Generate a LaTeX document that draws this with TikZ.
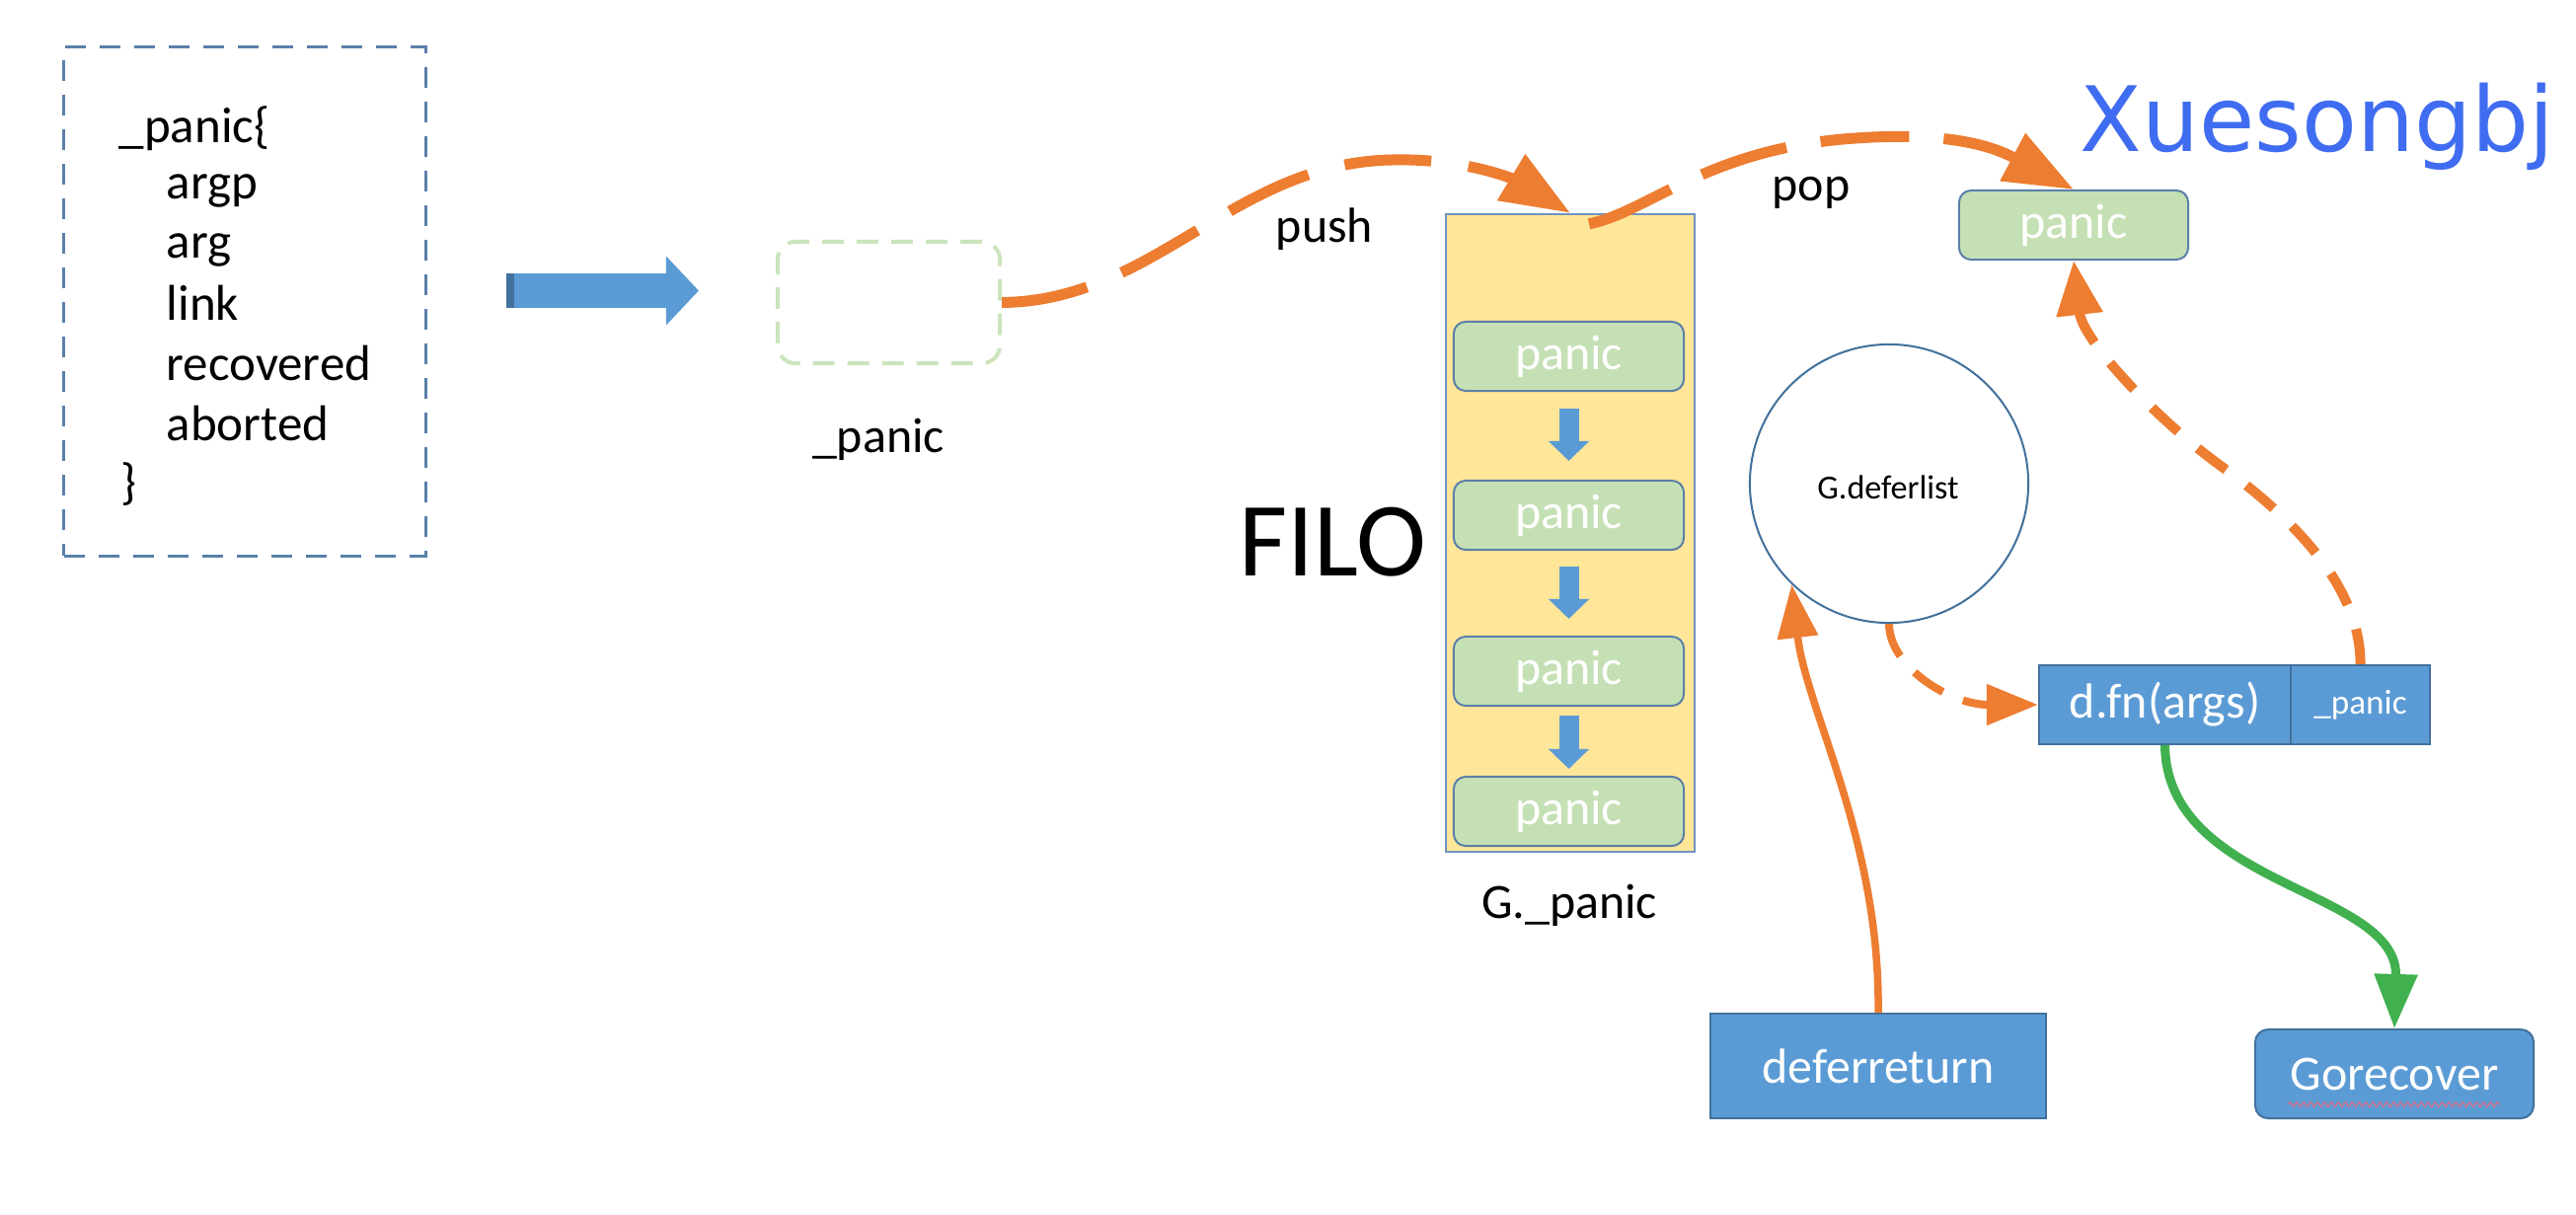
\documentclass[tikz,border=0pt]{standalone}
\usepackage{fontspec}
\setmainfont{Carlito}
\newfontfamily\wmfont{DejaVu Sans}
\usetikzlibrary{arrows.meta,calc,decorations.pathmorphing}
\definecolor{obl}{HTML}{5B9BD5}
\definecolor{obld}{HTML}{41719C}
\definecolor{oor}{HTML}{ED7D31}
\definecolor{ogr}{HTML}{C5E0B4}
\definecolor{ogrd}{HTML}{CBE4BC}
\definecolor{oye}{HTML}{FFE699}
\definecolor{colst}{HTML}{6F93BF}
\definecolor{boxst}{HTML}{5B80A8}
\definecolor{gline}{HTML}{41B04F}
\definecolor{wm}{HTML}{3F6CF0}
\definecolor{codest}{HTML}{5A80A9}
\definecolor{squig}{HTML}{D9708A}
\begin{document}
\begin{tikzpicture}[x=0.01cm,y=-0.01cm,
  lbl/.style={inner sep=0pt, font=\fontsize{14.2}{17}\selectfont},
  codetxt/.style={inner sep=0pt, anchor=base west, font=\fontsize{14.5}{17}\selectfont},
  gbox/.style={draw=boxst, line width=0.02cm, fill=ogr, rounded corners=0.12cm,
     minimum width=2.33cm, minimum height=0.70cm, inner sep=0pt, text=white,
     font=\fontsize{14.2}{17}\selectfont},
  bbox/.style={draw=obld, line width=0.02cm, fill=obl, inner sep=0pt, text=white,
     font=\fontsize{14.2}{17}\selectfont},
  darr/.style={obl, line width=0.2cm, -{Triangle[length=0.2cm,width=0.4cm]}},
  bigdash/.style={oor, line width=0.11cm, -{Triangle[length=0.7cm,width=0.52cm]}},
]
\useasboundingbox[fill=white] (0,0) rectangle (2610,1230);

% left struct box
\node[draw=codest, line width=0.03cm, dash pattern=on 0.21cm off 0.14cm,
      minimum width=3.66cm, minimum height=5.15cm, inner sep=0pt] (code) at (248,305.5) {};
\node[codetxt] (c0) at (120,144) {\_panic\{};
\node[codetxt] (c1) at (168,201) {argp};
\node[codetxt] (c2) at (168,261) {arg};
\node[codetxt] (c3) at (168,324) {link};
\node[codetxt] (c4) at (168,385) {recovered};
\node[codetxt] (c5) at (168,446) {aborted};
\node[codetxt] (c6) at (122,505) {\}};

% empty dashed _panic box
\node[draw=ogrd, line width=0.04cm, dash pattern=on 0.22cm off 0.13cm, rounded corners=0.18cm,
      minimum width=2.25cm, minimum height=1.23cm, inner sep=0pt] (pbox) at (900.5,306.5) {};
\node[lbl, anchor=base] (pl) at (890,458) {\_panic};

% big block arrow
\draw[obl, line width=0.35cm, -{Triangle[length=0.33cm,width=0.68cm]}]
  ($(code.east)+(80,-11)$) coordinate (ba0) -- ($(pbox.west)+(-78,-12)$);
\fill[obld] ($(ba0)+(0,-17.5)$) rectangle ($(ba0)+(8,17.5)$);

% G._panic column
\node[draw=colst, line width=0.02cm, fill=oye, minimum width=2.52cm, minimum height=6.46cm,
      inner sep=0pt] (col) at (1591,540) {};
\node[gbox] (p1) at (1589.5,361) {panic};
\node[gbox] (p2) at (1589.5,522) {panic};
\node[gbox] (p3) at (1589.5,680) {panic};
\node[gbox] (p4) at (1589.5,822) {panic};
\draw[darr] ($(p1.south)+(0,17)$) -- ($(p2.north)+(0,-19)$);
\draw[darr] ($(p2.south)+(0,16)$) -- ($(p3.north)+(0,-17)$);
\draw[darr] ($(p3.south)+(0,9)$) -- ($(p4.north)+(0,-7)$);
\node[inner sep=0pt, font=\fontsize{30.4}{36}\selectfont, anchor=base west] (filo) at (1255,583) {FILO};
\node[lbl, anchor=base] (gp) at (1590,930) {G.\_panic};

% labels
\node[lbl, anchor=base] (push) at (1342,245) {push};
\node[lbl, anchor=base] (pop) at (1835,203) {pop};
\node[inner sep=0pt, anchor=base west, text=wm, font=\wmfont\fontsize{26}{31}\selectfont] (wm) at (2107,153) {Xuesongbj};

% top right panic
\node[gbox, minimum width=2.32cm] (tp) at (2101,228) {panic};

% deferlist circle
\node[circle, draw=obld, line width=0.02cm, minimum size=2.82cm, inner sep=0pt] (circ) at (1914,490) {};
\node[inner sep=0pt, anchor=base, font=\fontsize{9.7}{12}\selectfont] (cl) at (1913,505) {G.deferlist};

% d.fn(args) | _panic
\node[bbox, minimum width=2.55cm, minimum height=0.80cm] (dfn) at (2193.5,714) {d.fn(args)};
\node[bbox, minimum width=1.41cm, minimum height=0.80cm, font=\fontsize{10}{12}\selectfont] (dp) at (2391.5,714) {\_panic};

% deferreturn and Gorecover
\node[bbox, minimum width=3.40cm, minimum height=1.06cm] (dr) at (1903,1080) {deferreturn};
\node[bbox, rounded corners=0.13cm, minimum width=2.82cm, minimum height=0.90cm] (gr) at (2426,1088) {Gorecover};
\draw[squig, line width=0.012cm, decorate, decoration={snake, amplitude=0.025cm, segment length=0.07cm}]
  ($(gr.south)+(-108,-15)$) -- ($(gr.south)+(107,-15)$);

% connectors
\draw[bigdash, dash pattern=on 0.88cm off 0.38cm]
  (pbox.east) .. controls (1170,305) and (1250,165) .. (1410,162)
  .. controls (1490,160) and (1540,185) .. (col.north);
\draw[bigdash, dash pattern=on 0.9cm off 0.35cm]
  ($(col.north)+(19,11)$) .. controls (1670,215) and (1730,150) .. (1880,140)
  .. controls (1980,133) and (2022,150) .. (tp.north);
\draw[oor, line width=0.10cm, dash pattern=on 0.36cm off 0.26cm, -{Triangle[length=0.55cm,width=0.45cm]}]
  (dp.north) .. controls (2392,590) and (2315,519) .. (2250,472)
  .. controls (2185,425) and (2110,345) .. (tp.south);
\draw[oor, line width=0.08cm, dash pattern=on 0.35cm off 0.22cm, -{Triangle[length=0.52cm,width=0.4cm]}]
  (circ.south) .. controls (1914,675) and (1975,714) .. (dfn.west);
\draw[oor, line width=0.075cm, -{Triangle[length=0.54cm,width=0.4cm]}]
  (dr.north) .. controls (1905,850) and (1830,720) .. (circ.226);
\draw[gline, line width=0.09cm, -{Triangle[length=0.55cm,width=0.42cm]}]
  (dfn.south) .. controls (2195,900) and (2430,900) .. (gr.north);
\end{tikzpicture}
\end{document}
